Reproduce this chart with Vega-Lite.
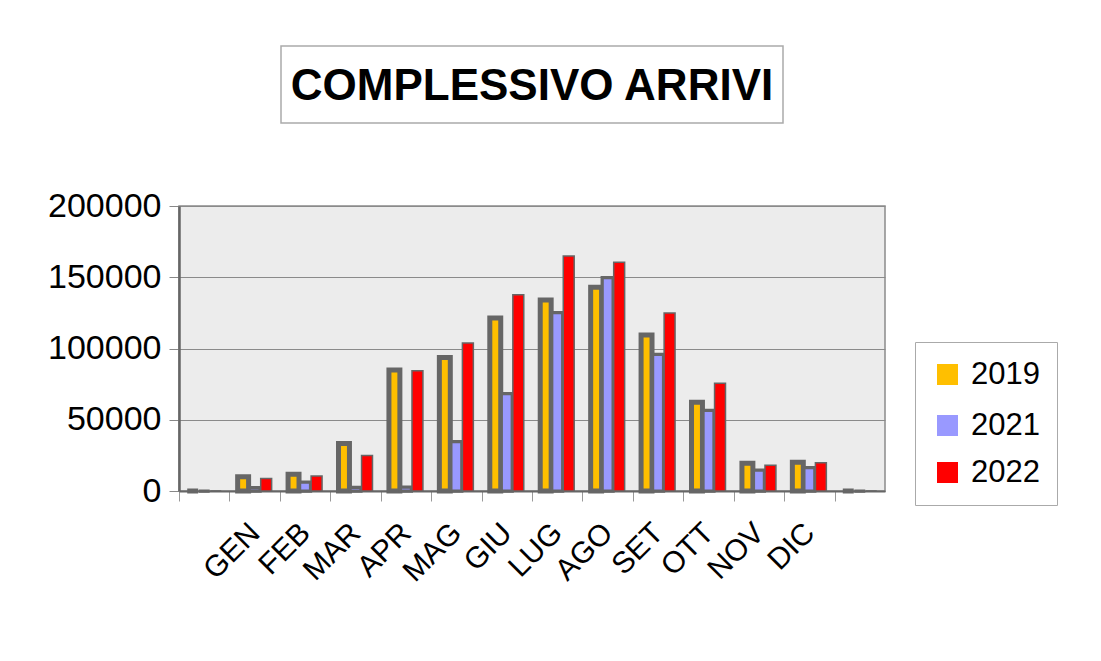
{
  "$schema": "https://vega.github.io/schema/vega-lite/v6.json",
  "background": "white",
  "padding": {"left": 46, "top": 45, "right": 5, "bottom": 5},
  "spacing": 83,
  "bounds": "flush",
  "center": true,
  "config": {
    "font": "Liberation Sans",
    "legend": {
      "strokeColor": "#aaaaaa",
      "fillColor": "white",
      "padding": 17,
      "labelFontSize": 31,
      "labelColor": "black",
      "labelFont": "Liberation Sans",
      "symbolType": "square",
      "symbolSize": 441,
      "rowPadding": 13,
      "labelOffset": 8,
      "titlePadding": 0
    }
  },
  "vconcat": [
    {
      "width": 502,
      "height": 77,
      "view": {"stroke": "#aaaaaa", "strokeWidth": 1.5, "fill": "white"},
      "data": {"values": [{"t": "COMPLESSIVO ARRIVI"}]},
      "mark": {"type": "text", "font": "Liberation Sans", "fontSize": 44, "fontWeight": "bold", "color": "black", "baseline": "middle", "align": "center", "dy": 2},
      "encoding": {
        "text": {"field": "t", "type": "nominal"}
      }
    },
    {
      "width": 706,
      "height": 285,
      "view": {"fill": "#ececec", "stroke": "#8a8a8a", "strokeWidth": 1.5},
      "data": {
        "values": [
          {"mese": "_a", "anno": "2019", "arrivi": 0},
          {"mese": "_a", "anno": "2021", "arrivi": 0},
          {"mese": "_a", "anno": "2022", "arrivi": 0},
          {"mese": "GEN", "anno": "2019", "arrivi": 10000},
          {"mese": "GEN", "anno": "2021", "arrivi": 2300},
          {"mese": "GEN", "anno": "2022", "arrivi": 8700},
          {"mese": "FEB", "anno": "2019", "arrivi": 11800},
          {"mese": "FEB", "anno": "2021", "arrivi": 6300},
          {"mese": "FEB", "anno": "2022", "arrivi": 10500},
          {"mese": "MAR", "anno": "2019", "arrivi": 33400},
          {"mese": "MAR", "anno": "2021", "arrivi": 2500},
          {"mese": "MAR", "anno": "2022", "arrivi": 25000},
          {"mese": "APR", "anno": "2019", "arrivi": 84900},
          {"mese": "APR", "anno": "2021", "arrivi": 2800},
          {"mese": "APR", "anno": "2022", "arrivi": 84400},
          {"mese": "MAG", "anno": "2019", "arrivi": 93600},
          {"mese": "MAG", "anno": "2021", "arrivi": 34600},
          {"mese": "MAG", "anno": "2022", "arrivi": 103900},
          {"mese": "GIU", "anno": "2019", "arrivi": 121400},
          {"mese": "GIU", "anno": "2021", "arrivi": 68300},
          {"mese": "GIU", "anno": "2022", "arrivi": 137800},
          {"mese": "LUG", "anno": "2019", "arrivi": 134000},
          {"mese": "LUG", "anno": "2021", "arrivi": 125100},
          {"mese": "LUG", "anno": "2022", "arrivi": 164900},
          {"mese": "AGO", "anno": "2019", "arrivi": 142900},
          {"mese": "AGO", "anno": "2021", "arrivi": 149700},
          {"mese": "AGO", "anno": "2022", "arrivi": 160500},
          {"mese": "SET", "anno": "2019", "arrivi": 109500},
          {"mese": "SET", "anno": "2021", "arrivi": 95900},
          {"mese": "SET", "anno": "2022", "arrivi": 124900},
          {"mese": "OTT", "anno": "2019", "arrivi": 62200},
          {"mese": "OTT", "anno": "2021", "arrivi": 56600},
          {"mese": "OTT", "anno": "2022", "arrivi": 75600},
          {"mese": "NOV", "anno": "2019", "arrivi": 19400},
          {"mese": "NOV", "anno": "2021", "arrivi": 14700},
          {"mese": "NOV", "anno": "2022", "arrivi": 18000},
          {"mese": "DIC", "anno": "2019", "arrivi": 20100},
          {"mese": "DIC", "anno": "2021", "arrivi": 16400},
          {"mese": "DIC", "anno": "2022", "arrivi": 19900},
          {"mese": "_b", "anno": "2019", "arrivi": 0},
          {"mese": "_b", "anno": "2021", "arrivi": 0},
          {"mese": "_b", "anno": "2022", "arrivi": 0}
        ]
      },
      "mark": {"type": "bar", "stroke": "#666666"},
      "encoding": {
        "x": {
          "field": "mese",
          "type": "nominal",
          "scale": {
            "domain": ["_a", "GEN", "FEB", "MAR", "APR", "MAG", "GIU", "LUG", "AGO", "SET", "OTT", "NOV", "DIC", "_b"],
            "paddingInner": 0.326,
            "paddingOuter": 0.163
          },
          "axis": {
            "title": null,
            "labelExpr": "substring(datum.value, 0, 1) == '_' ? '' : datum.value",
            "labelAngle": -45,
            "labelAlign": "right",
            "labelBaseline": "middle",
            "labelFontSize": 30,
            "labelColor": "black",
            "labelFont": "Liberation Sans",
            "labelPadding": 27,
            "domainColor": "#666666",
            "domainWidth": 2,
            "tickOffset": -25.2,
            "labelOffset": 25.2,
            "tickColor": "#999999",
            "tickSize": 10,
            "tickWidth": 1,
            "grid": false
          }
        },
        "xOffset": {
          "field": "anno",
          "type": "nominal",
          "scale": {"paddingInner": 0.05}
        },
        "y": {
          "field": "arrivi",
          "type": "quantitative",
          "scale": {"domain": [0, 200000], "nice": false},
          "axis": {
            "title": null,
            "values": [0, 50000, 100000, 150000, 200000],
            "format": "d",
            "labelFontSize": 34,
            "labelColor": "black",
            "labelFont": "Liberation Sans",
            "labelPadding": 8,
            "domainColor": "#666666",
            "domainWidth": 2.5,
            "tickColor": "#888888",
            "tickSize": 10,
            "gridColor": "#8a8a8a",
            "gridWidth": 1,
            "gridOpacity": 1
          }
        },
        "color": {
          "field": "anno",
          "type": "nominal",
          "scale": {"domain": ["2019", "2021", "2022"], "range": ["#ffbf00", "#9999ff", "#ff0000"]},
          "legend": {
            "title": null,
            "orient": "none",
            "legendX": 736,
            "legendY": 296,
            "symbolStrokeWidth": 0,
            "symbolStrokeColor": "transparent",
            "encode": {"symbols": {"update": {"strokeWidth": {"value": 0}, "stroke": {"value": "transparent"}}}}
          }
        },
        "strokeWidth": {
          "field": "anno",
          "type": "ordinal",
          "scale": {"domain": ["2019", "2021", "2022"], "range": [5, 1.5, 3]},
          "legend": null
        }
      }
    }
  ]
}
